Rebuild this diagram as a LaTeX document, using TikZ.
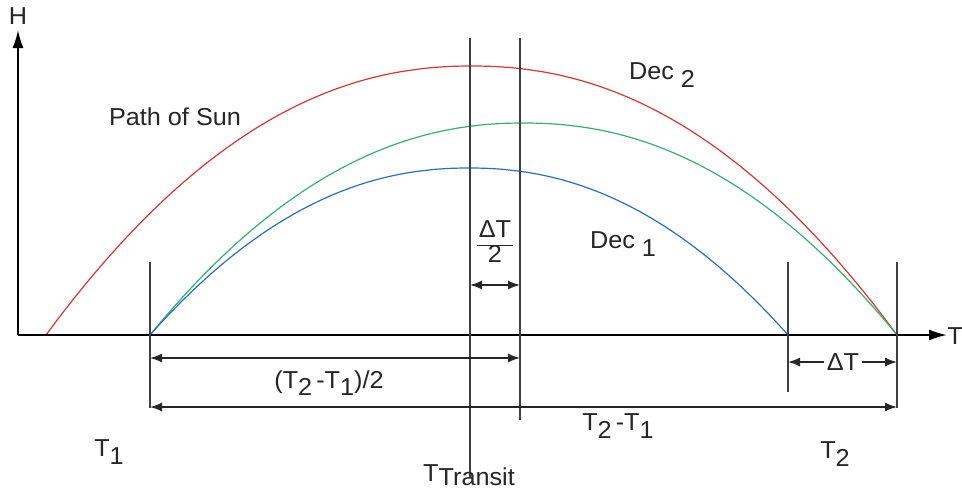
\documentclass[tikz,border=0pt]{standalone}
\usepackage{fontspec}
\setmainfont{Liberation Sans}[FakeStretch=1.03]
\usetikzlibrary{arrows.meta}
\newcommand\lowsub[1]{\raisebox{-0.3em}{#1}}
\newcommand\lowsubb[1]{\raisebox{-0.18em}{#1}}
\begin{document}
\begin{tikzpicture}[x=1pt,y=-1pt,
  lbl/.style={font=\fontsize{24.5}{28}\selectfont, inner sep=1pt, text=black!85},
  vline/.style={line width=1.5pt, draw=black!75},
  dimarr/.style={line width=1.5pt, draw=black!85, {Latex[length=12pt,width=9pt]}-{Latex[length=12pt,width=9pt]}},
  onearr/.style={line width=1.5pt, draw=black!85, -{Latex[length=12pt,width=9pt]}},
  axis/.style={line width=1.8pt, -{Latex[length=18pt,width=11pt]}},
  curve/.style={line width=1.2pt}]
\useasboundingbox (0,0) rectangle (962,490);
\fill[white] (0,0) rectangle (962,490);
\definecolor{sunred}{RGB}{225,50,50}
\definecolor{sungreen}{RGB}{50,180,110}
\definecolor{sunblue}{RGB}{40,110,200}
% curves
\draw[curve, sunred] plot[domain=46:897, samples=150] (\x, {335-269*(1-abs((\x-471.5)/425.5)^2.15)});
\draw[curve, sungreen] plot[domain=150:897, samples=150] (\x, {335-212*(1-abs((\x-523.5)/373.5)^2.15)});
\draw[curve, sunblue] plot[domain=150:788, samples=150] (\x, {335-167*(1-abs((\x-469)/319)^2.15)});
% axes
\coordinate (O) at (18,335);
\coordinate (Htip) at (18,30);
\coordinate (Ttip) at (947,335);
\draw[axis] (O) -- (Htip);
\draw[axis] (O) -- (Ttip);
\node[lbl] (H) at (18,16) {H};
\node[lbl] (T) at (955,336) {T};
% vertical lines
\coordinate (a1) at (150,262); \coordinate (a2) at (150,408);
\coordinate (b1) at (470,38);  \coordinate (b2) at (470,478);
\coordinate (c1) at (520,38);  \coordinate (c2) at (520,420);
\coordinate (d1) at (788,262); \coordinate (d2) at (788,392);
\coordinate (e1) at (897,262); \coordinate (e2) at (897,408);
\draw[vline] (a1) -- (a2);
\draw[vline] (b1) -- (b2);
\draw[vline] (c1) -- (c2);
\draw[vline] (d1) -- (d2);
\draw[vline] (e1) -- (e2);
% dimension arrows
\coordinate (hb) at (470,285); \coordinate (hc) at (520,285);
\draw[dimarr] (hb) -- (hc);
\coordinate (ma) at (150,358); \coordinate (mc) at (520,358);
\draw[dimarr] (ma) -- (mc);
\coordinate (la) at (150,407); \coordinate (le) at (897,407);
\draw[dimarr] (la) -- (le);
\node[lbl, inner sep=3pt] (dT) at (843,362) {ΔT};
\coordinate (dd) at (788,362); \coordinate (de) at (897,362);
\draw[onearr] (dT.west) -- (dd);
\draw[onearr] (dT.east) -- (de);
% labels
\node[lbl] (half) at (495,245) {\setlength\tabcolsep{2pt}\renewcommand\arraystretch{0.9}\begin{tabular}{c}ΔT\\\hline 2\end{tabular}};
\node[lbl] (t21h) at (329,383) {(T\lowsub{2}\,-T\lowsub{1})/2};
\node[lbl] (t21) at (618,426) {T\lowsub{2}\,-T\lowsub{1}};
\node[lbl] (T1) at (109,452) {T\lowsub{1}};
\node[lbl] (Ttr) at (469,475) {T\lowsubb{Transit}};
\node[lbl] (T2) at (835,454) {T\lowsub{2}};
\node[lbl] (path) at (175,117) {Path of Sun};
\node[lbl] (dec2) at (662,75) {Dec \lowsub{2}};
\node[lbl] (dec1) at (623,244) {Dec \lowsub{1}};
\end{tikzpicture}
\end{document}
